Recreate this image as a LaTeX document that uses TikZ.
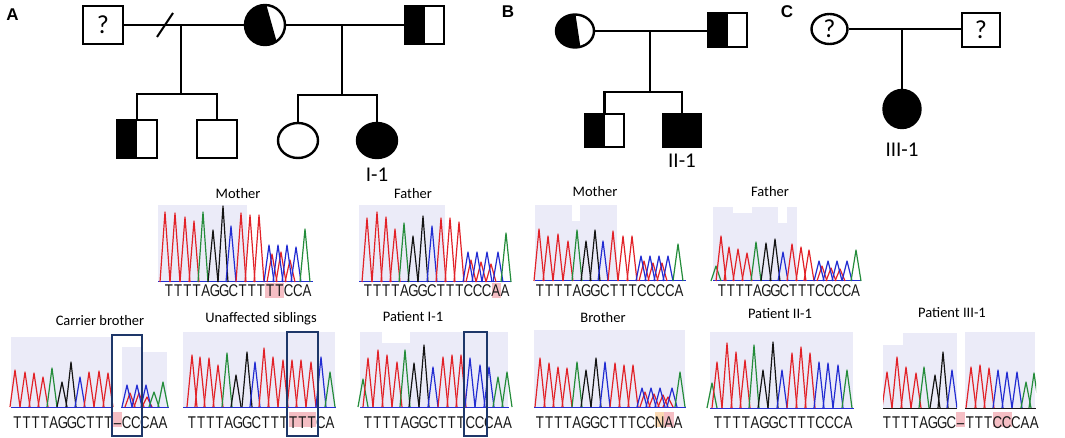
\documentclass[tikz,border=0pt]{standalone}
\usepackage{fontspec}
\setmainfont{Carlito}
\newfontfamily\seqf[FakeStretch=0.78]{Liberation Sans}
\newfontfamily\panf{Liberation Sans}
\usetikzlibrary{calc,shapes.geometric}
\definecolor{chR}{RGB}{226,34,40}
\definecolor{chG}{RGB}{36,140,58}
\definecolor{chB}{RGB}{34,44,210}
\definecolor{chK}{RGB}{20,20,20}
\definecolor{qv}{RGB}{235,235,248}
\definecolor{pinkhl}{RGB}{245,190,196}
\definecolor{orghl}{RGB}{250,216,178}
\definecolor{navy}{RGB}{30,55,105}
\tikzset{
  pl/.style={line width=2.4pt},
  ind/.style={draw, line width=2.4pt, inner sep=0pt, fill=white},
  halfL/.style={path picture={\fill[black] (path picture bounding box.north west) rectangle (path picture bounding box.south);}},
  peak/.style={line width=1.2pt, line join=round},
  seq/.style={font=\seqf\fontsize{17}{19}\selectfont, inner sep=0pt, anchor=base, text=black!90},
  lab/.style={font=\fontsize{14.5}{16}\selectfont, inner sep=0pt, anchor=base},
  idlab/.style={font=\fontsize{21}{24}\selectfont, inner sep=0pt, anchor=base},
  qm/.style={font=\fontsize{26}{28}\selectfont},
  panlab/.style={font=\panf\bfseries\fontsize{17}{19}\selectfont, inner sep=0pt, anchor=base},
  seqbox/.style={draw=navy, line width=2.6pt, inner sep=0pt},
  qfill/.style={fill=qv},
  hl/.style={fill=pinkhl}
}
\newcommand\peaks[2]{\foreach \px/\ph/\pc in {#2}{\draw[peak,draw=\pc] ({\px-5},#1) -- (\px,{#1-\ph}) -- ({\px+5},#1);}}
\newcommand\seqrow[5]{\foreach \sl [count=\si from 0] in {#5}{\node[seq] (#1\si) at ({#2+\si*#3},#4) {\sl};}}
\begin{document}
\begin{tikzpicture}[x=1pt,y=-1pt]
\useasboundingbox (0,0) rectangle (1065,438);
\fill[white] (0,0) rectangle (1065,438);

% ---------------- Pedigree A ----------------
\node[panlab] (labA) at (12.5,21) {A};
\node[ind, rectangle, minimum width=40pt, minimum height=38pt, qm] (qA) at (103,25) {?};
\node[ind, circle, minimum size=40pt, path picture={\fill[black] ($(path picture bounding box.center)+(-25,-25)$) -- ++(25,0) -- ++(14,50) -- ++(-39,0) -- cycle;}] (mA) at (265,25) {};
\node[ind, rectangle, halfL, minimum width=39pt, minimum height=38pt] (fA) at (424.5,25) {};
\node[ind, rectangle, halfL, minimum width=40pt, minimum height=38pt] (cA1) at (137,139) {};
\node[ind, rectangle, minimum width=40pt, minimum height=38pt] (cA2) at (217,139) {};
\node[ind, ellipse, minimum width=40pt, minimum height=35pt] (cA3) at (298,140.5) {};
\node[ind, ellipse, fill=black, minimum width=40pt, minimum height=35pt] (cA4) at (377,140.5) {};
\node[idlab] (idA) at (377,182) {I-1};
\draw[pl] (qA.east) -- (mA.west);
\coordinate (slA1) at (157,37); \coordinate (slA2) at (173,13);
\draw[line width=2pt] (slA1) -- (slA2);
\coordinate (jA1) at (181,25); \coordinate (sA1) at (181,94);
\draw[pl] (jA1) -- (sA1);
\draw[pl] (cA1.north) |- (sA1) -| (cA2.north);
\draw[pl] (mA.east) -- (fA.west);
\coordinate (jA2) at (342,25); \coordinate (sA2) at (342,95);
\draw[pl] (jA2) -- (sA2);
\draw[pl] (cA3.north) |- (sA2) -| (cA4.north);

% ---------------- Pedigree B ----------------
\node[panlab] (labB) at (508,18) {B};
\node[ind, ellipse, minimum width=38pt, minimum height=33pt, path picture={\fill[black] ($(path picture bounding box.center)+(-25,-20)$) -- ++(25,0) -- ++(6,40) -- ++(-31,0) -- cycle;}] (mB) at (575,31) {};
\node[ind, rectangle, halfL, minimum width=39pt, minimum height=34pt] (fB) at (727.5,30) {};
\node[ind, rectangle, halfL, minimum width=39pt, minimum height=33pt] (cB1) at (604.5,130.5) {};
\node[ind, rectangle, fill=black, minimum width=38pt, minimum height=33pt] (cB2) at (682,130.5) {};
\node[idlab] (idB) at (682,168) {II-1};
\draw[pl] (mB.east) -- (mB.east -| fB.west);
\coordinate (jB) at (650,31); \coordinate (sB) at (650,92);
\draw[pl] (jB) -- (sB);
\draw[pl] (cB1.north) |- (sB) -| (cB2.north);

% ---------------- Pedigree C ----------------
\node[panlab] (labC) at (787,18) {C};
\node[ind, ellipse, minimum width=36pt, minimum height=30pt, qm] (mC) at (829.5,29) {?};
\node[ind, rectangle, minimum width=38pt, minimum height=34pt, qm] (fC) at (981,30) {?};
\node[ind, ellipse, fill=black, minimum width=37pt, minimum height=38pt] (cC) at (902,109) {};
\node[idlab] (idC) at (902,157) {III-1};
\draw[pl] (mC.east) -- (mC.east -| fC.west);
\coordinate (jC) at (902,29.5);
\draw[pl] (jC) -- (cC.north);

% ---------------- Chromatograms: top row ----------------
% Mother (A)
\node[lab] (tMA) at (238,199) {Mother};
\fill[qfill] (158,205) rectangle (247,282);
\draw[chB, line width=1pt] (158,282) -- (313,282);
\peaks{282}{165/70/chR,175/69/chR,185/65/chR,194/61/chR,203/70/chG,213/52/chK,223/76/chK,231/56/chB,241/69/chR,250/67/chR,259/67/chR,272/28/chR,281/30/chR,290/22/chR,269/37/chB,278/37/chB,287/37/chB,296/35/chB,305/53/chG}
\fill[hl] (265,283) rectangle (284,298);
\seqrow{sMA}{169}{9.2}{297}{T,T,T,T,A,G,G,C,T,T,T,T,T,C,C,A}

% Father (A)
\node[lab] (tFA) at (413,199) {Father};
\fill[qfill] (359,205) rectangle (445,282);
\draw[chB, line width=1pt] (359,282) -- (511,282);
\peaks{282}{367/64/chR,377/70/chR,386/65/chR,395/53/chR,404/59/chG,413/46/chK,423/66/chK,432/56/chB,441/64/chR,450/64/chR,459/60/chR,471/22/chR,481/20/chR,491/18/chR,468/30/chB,477/30/chB,487/30/chB,498/30/chB,506/49/chG}
\fill[hl] (491.5,283) rectangle (501,298);
\seqrow{sFA}{368}{9.13}{297}{T,T,T,T,A,G,G,C,T,T,T,C,C,C,A,A}

% Mother (B)
\node[lab] (tMB) at (595,197) {Mother};
\fill[qfill] (535,205) rectangle (572,281);
\fill[qfill] (572,221) rectangle (580,281);
\fill[qfill] (580,205) rectangle (617,281);
\draw[chB, line width=1pt] (535,281) -- (686,281);
\peaks{281}{539/52/chR,548/45/chR,558/47/chR,568/40/chR,577/51/chG,586/40/chK,595/51/chK,603/40/chB,613/50/chR,623/45/chR,632/45/chR,644/20/chR,653/18/chR,662/18/chR,641/25/chB,650/25/chB,659/25/chB,668/25/chB,678/37/chG}
\seqrow{sMB}{540}{9.27}{297}{T,T,T,T,A,G,G,C,T,T,T,C,C,C,C,A}

% Father (B)
\node[lab] (tFB) at (770,197) {Father};
\fill[qfill] (713,207) rectangle (733,281);
\fill[qfill] (733,213) rectangle (752,281);
\fill[qfill] (752,207) rectangle (778,281);
\fill[qfill] (778,223) rectangle (787,281);
\fill[qfill] (787,207) rectangle (797,281);
\draw[chB, line width=1pt] (713,281) -- (861,281);
\peaks{281}{716/15/chG,721/45/chR,729/34/chR,738/32/chR,747/28/chR,756/39/chG,766/38/chK,775/42/chK,783/29/chB,792/37/chR,801/34/chR,809/31/chR,822/15/chR,831/13/chR,840/12/chR,819/20/chB,828/20/chB,837/20/chB,847/20/chB,856/31/chG}
\seqrow{sFB}{722}{8.9}{297}{T,T,T,T,A,G,G,C,T,T,T,C,C,C,C,A}

% ---------------- Chromatograms: bottom row ----------------
% Carrier brother
\node[lab] (tCB) at (100,325) {Carrier brother};
\fill[qfill] (11,337) rectangle (111,407);
\fill[qfill] (122,347) rectangle (142,407);
\fill[qfill] (143,352) rectangle (167,407);
\draw[chB, line width=1pt] (11,407) -- (112,407);
\draw[chB, line width=1pt] (121,407) -- (169,407);
\peaks{407}{15/37/chR,25/35/chR,34/34/chR,43/30/chR,52/39/chG,62/25/chK,71/45/chK,80/30/chB,89/35/chR,99/36/chR,108/34/chR,130/14/chR,139/14/chR,147/10/chR,127/22/chB,137/22/chB,146/22/chB,154/15/chG,163/25/chG}
\fill[hl] (113,412) rectangle (122,427);
\seqrow{sCB}{17.5}{9.1}{428}{T,T,T,T,A,G,G,C,T,T,T,–,C,C,C,A,A}
\node[seqbox, minimum width=30pt, minimum height=101pt] (bx1) at (127,385.5) {};

% Unaffected siblings
\node[lab] (tUS) at (261,322) {Unaffected siblings};
\fill[qfill] (183,332) rectangle (335,407);
\draw[chB, line width=1pt] (183,407) -- (336,407);
\peaks{407}{192/52/chR,200/50/chR,209/49/chR,218/42/chR,227/54/chG,236/32/chK,247/55/chK,255/45/chB,264/59/chR,273/50/chR,283/47/chR,292/47/chR,301/47/chR,311/45/chR,321/50/chB,330/35/chG}
\fill[hl] (288.6,412) rectangle (316,427);
\seqrow{sUS}{192}{9.2}{428}{T,T,T,T,A,G,G,C,T,T,T,T,T,T,C,A}
\node[seqbox, minimum width=31pt, minimum height=104pt] (bx2) at (302.5,384) {};

% Patient I-1
\node[lab] (tP1) at (413,321) {Patient I-1};
\fill[qfill] (360,332) rectangle (382,407);
\fill[qfill] (382,343) rectangle (410,407);
\fill[qfill] (410,332) rectangle (508,407);
\draw[chB, line width=1pt] (360,407) -- (509,407);
\peaks{407}{363/28/chG,368/49/chR,378/57/chR,387/52/chR,397/45/chR,405/57/chG,414/44/chK,424/62/chK,433/40/chB,443/50/chR,452/52/chR,461/52/chR,470/49/chB,480/42/chB,489/40/chB,498/30/chG,507/35/chG}
\seqrow{sP1}{368}{9.3}{428}{T,T,T,T,A,G,G,C,T,T,T,C,C,C,A,A}
\node[seqbox, minimum width=23pt, minimum height=104pt] (bx3) at (475.5,384) {};

% Brother
\node[lab] (tBR) at (603,322) {Brother};
\fill[qfill] (534,330) rectangle (685,407);
\draw[chB, line width=1pt] (534,407) -- (686,407);
\peaks{407}{540/49/chR,549/44/chR,558/40/chR,567/39/chR,577/45/chG,586/37/chK,596/49/chK,605/45/chB,615/44/chR,624/42/chR,633/42/chR,645/15/chR,654/13/chR,663/12/chR,668/10/chR,642/19/chB,651/19/chB,660/19/chB,672/19/chB,680/35/chG}
\fill[orghl] (655,412) rectangle (664.2,427);
\fill[hl] (664.2,412) rectangle (673.5,427);
\seqrow{sBR}{540}{9.2}{428}{T,T,T,T,A,G,G,C,T,T,T,C,C,N,A,A}

% Patient II-1
\node[lab] (tP2) at (780,318) {Patient II-1};
\fill[qfill] (710,332) rectangle (853,408);
\draw[chB, line width=1pt] (710,408) -- (854,408);
\peaks{408}{712/25/chG,717/46/chR,727/65/chR,736/56/chR,745/48/chR,754/63/chG,763/38/chK,773/66/chK,782/38/chB,792/55/chR,801/61/chR,810/55/chR,819/46/chB,828/45/chB,838/43/chB,847/38/chG}
\seqrow{sP2}{718}{9.29}{428}{T,T,T,T,A,G,G,C,T,T,T,C,C,C,A}

% Patient III-1
\node[lab] (tP3) at (952,317) {Patient III-1};
\fill[qfill] (883,345) rectangle (903,408);
\fill[qfill] (903,333) rectangle (957,408);
\fill[qfill] (965,332) rectangle (1035,408);
\draw[chK, line width=1pt] (883,408) -- (957,408);
\draw[chK, line width=1pt] (965,408) -- (1036,408);
\begin{scope}
\clip (883,300) rectangle (957,409);
\peaks{408}{887/36/chR,897/51/chR,906/41/chR,916/35/chR,924/41/chG,935/33/chK,943/56/chK,952/38/chB}
\end{scope}
\begin{scope}
\clip (965,300) rectangle (1036,409);
\peaks{408}{971/41/chR,980/43/chR,989/40/chR,998/38/chB,1007/36/chB,1017/36/chB,1026/26/chG,1034/35/chG}
\end{scope}
\fill[hl] (956,412) rectangle (965,427);
\fill[hl] (993,412) rectangle (1011.5,427);
\seqrow{sP3}{887}{9.2}{428}{T,T,T,T,A,G,G,C,–,T,T,T,C,C,C,A,A}
\end{tikzpicture}
\end{document}
